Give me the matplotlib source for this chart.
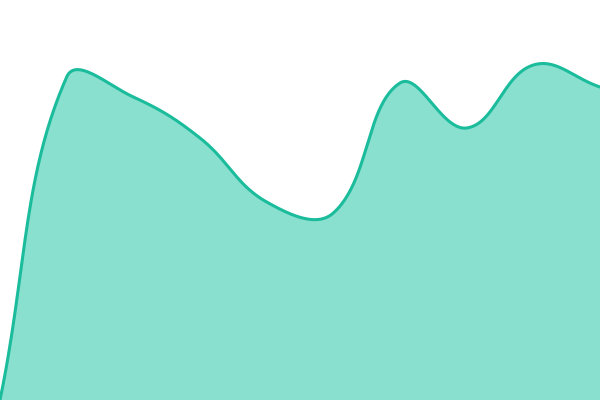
import numpy as np
import matplotlib
matplotlib.use('Agg')
import matplotlib.pyplot as plt

# data points (10 evenly spaced samples)
idx = list(range(10))
values = [0, 323, 303, 262, 198, 187, 317, 272, 335, 313]

TENSION = 0.4


def spline_path(px, py, t=TENSION, n=50):
    # chart.js style bezier spline, worked out in pixel space
    N = len(px)
    cp_prev = []
    cp_next = []
    for i in range(N):
        pi = i - 1 if i > 0 else i
        ni = i + 1 if i < N - 1 else i
        d01 = np.hypot(px[i] - px[pi], py[i] - py[pi])
        d12 = np.hypot(px[ni] - px[i], py[ni] - py[i])
        tot = d01 + d12
        s01 = d01 / tot if tot else 0
        s12 = d12 / tot if tot else 0
        vx = px[ni] - px[pi]
        vy = py[ni] - py[pi]
        cp_prev.append((px[i] - t * s01 * vx, py[i] - t * s01 * vy))
        cp_next.append((px[i] + t * s12 * vx, py[i] + t * s12 * vy))
    xs = []
    ys = []
    tt = np.linspace(0, 1, n, endpoint=False)
    for i in range(N - 1):
        b0 = (1 - tt) ** 3
        b1 = 3 * (1 - tt) ** 2 * tt
        b2 = 3 * (1 - tt) * tt ** 2
        b3 = tt ** 3
        xs.extend(b0 * px[i] + b1 * cp_next[i][0] + b2 * cp_prev[i + 1][0] + b3 * px[i + 1])
        ys.extend(b0 * py[i] + b1 * cp_next[i][1] + b2 * cp_prev[i + 1][1] + b3 * py[i + 1])
    xs.append(px[-1])
    ys.append(py[-1])
    return np.array(xs), np.array(ys)


fig = plt.figure(figsize=(6, 4), dpi=100)
ax = fig.add_axes([0, 0, 1, 1])
ax.set_xlim(0, 9)
ax.set_ylim(0, 400)
ax.axis('off')

pix = ax.transData.transform(np.column_stack([idx, values]))
sx, sy = spline_path(pix[:, 0], pix[:, 1])
curve = ax.transData.inverted().transform(np.column_stack([sx, sy]))

ax.fill_between(curve[:, 0], 0, curve[:, 1], color='#8ae0cf', linewidth=0)
ax.plot(curve[:, 0], curve[:, 1], color='#1abc9c', linewidth=2.2)
fig.savefig('out.png', dpi=100)
